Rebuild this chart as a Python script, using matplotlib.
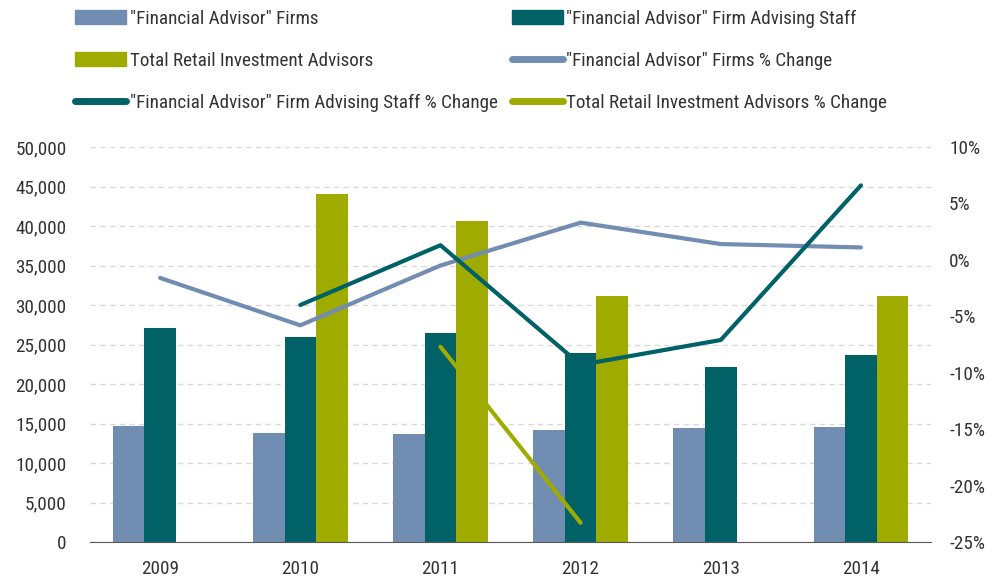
import numpy as np
import matplotlib
matplotlib.use("Agg")
import matplotlib.pyplot as plt
from matplotlib import font_manager
from matplotlib.patches import Patch
from matplotlib.lines import Line2D

# pick a narrow font if one is installed
names = set(f.name for f in font_manager.fontManager.ttflist)
font = "DejaVu Sans"
for cand in ["Roboto Condensed", "Liberation Sans Narrow", "Open Sans Condensed", "Noto Sans Condensed"]:
    if cand in names:
        font = cand
        break
plt.rcParams["font.family"] = [font, "DejaVu Sans"]

years = ["2009", "2010", "2011", "2012", "2013", "2014"]
fa_firms = [14700, 13850, 13700, 14200, 14400, 14600]
fa_staff = [27100, 26000, 26400, 23900, 22150, 23650]
retail_total = [np.nan, 44000, 40600, 31150, np.nan, 31200]
fa_firms_pct = [-1.6, -5.8, -0.5, 3.3, 1.4, 1.1]
fa_staff_pct = [np.nan, -4.0, 1.3, -9.3, -7.1, 6.6]
retail_pct = [np.nan, np.nan, -7.7, -23.3, np.nan, np.nan]

c_blue = "#728DB2"
c_teal = "#006266"
c_green = "#A0AB00"
txt = "#333333"

fig = plt.figure(figsize=(10.05, 5.79), dpi=100)
ax = fig.add_axes([0.0896, 0.0639, 0.8368, 0.6822])
ax2 = ax.twinx()

x = np.arange(len(years))
w = 0.225
ax.bar(x - w, fa_firms, w, color=c_blue, zorder=2)
ax.bar(x, fa_staff, w, color=c_teal, zorder=2)
ax.bar(x + w, retail_total, w, color=c_green, zorder=2)

lw = 3.0
ax2.plot(x, fa_firms_pct, color=c_blue, lw=lw, solid_capstyle="round", solid_joinstyle="round")
ax2.plot(x, fa_staff_pct, color=c_teal, lw=lw, solid_capstyle="round", solid_joinstyle="round")
ax2.plot(x, retail_pct, color=c_green, lw=lw, solid_capstyle="round", solid_joinstyle="round")

ax.set_xlim(-0.5, len(years) - 0.5)
ax.set_ylim(0, 50000)
ax.set_yticks(np.arange(0, 50001, 5000))
ax.set_yticklabels(["{:,}".format(v) for v in range(0, 50001, 5000)])
ax.set_xticks(x)
ax.set_xticklabels(years)
ax2.set_ylim(-25, 10)
ax2.set_yticks(np.arange(-25, 11, 5))
ax2.set_yticklabels(["{}%".format(v) for v in range(-25, 11, 5)])

ax.yaxis.grid(True, color="#D9D9D9", linestyle=(0, (4, 3)), lw=1, zorder=0)
ax.set_axisbelow(True)
for a in (ax, ax2):
    for s in a.spines.values():
        s.set_visible(False)
ax.spines["bottom"].set_visible(True)
ax.spines["bottom"].set_color("#595959")
ax.spines["bottom"].set_zorder(5)

fs = 13.8
ax.tick_params(axis="y", length=0, pad=17, labelsize=fs, labelcolor=txt)
ax.tick_params(axis="x", length=0, pad=13, labelsize=fs, labelcolor=txt)
ax2.tick_params(axis="y", length=0, pad=13, labelsize=fs, labelcolor=txt)
for t in ax2.get_yticklabels():
    t.set_horizontalalignment("left")

handles = [
    Patch(color=c_blue), Patch(color=c_green), Line2D([], [], color=c_teal, lw=5, solid_capstyle="round"),
    Patch(color=c_teal), Line2D([], [], color=c_blue, lw=5, solid_capstyle="round"),
    Line2D([], [], color=c_green, lw=5, solid_capstyle="round"),
]
labels = [
    '"Financial Advisor" Firms', "Total Retail Investment Advisors",
    '"Financial Advisor" Firm Advising Staff % Change',
    '"Financial Advisor" Firm Advising Staff', '"Financial Advisor" Firms % Change',
    "Total Retail Investment Advisors % Change",
]
fig.legend(handles, labels, loc="upper left", bbox_to_anchor=(75 / 1005, 1 - 10 / 579),
           ncol=2, frameon=False, fontsize=fs, borderpad=0, borderaxespad=0,
           handlelength=2.65, handleheight=0.75, handletextpad=0.2, labelspacing=1.25,
           columnspacing=0.75, labelcolor=txt)

fig.savefig("out.png", dpi=100)
